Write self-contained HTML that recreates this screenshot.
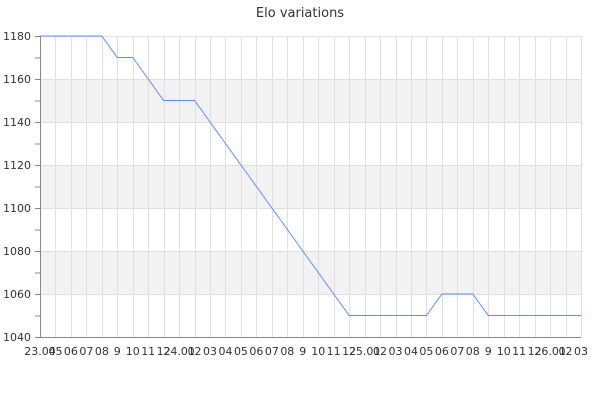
<!DOCTYPE html>
<html><head><style>body{margin:0;background:#fff}svg{display:block}text{font-family:"DejaVu Sans","Liberation Sans",sans-serif;fill:#333}</style></head>
<body>
<svg width="600" height="400" xmlns="http://www.w3.org/2000/svg">
<text x="300" y="17" font-size="13" text-anchor="middle">Elo variations</text>
<g fill="#f2f2f2">
<rect x="40" y="79" width="541" height="43"/>
<rect x="40" y="165" width="541" height="43"/>
<rect x="40" y="251" width="541" height="43"/>
</g>
<g id="g" stroke="#e0e0e0" stroke-width="1"></g>
<g id="lab" font-size="11" text-anchor="middle"></g>
<g font-size="11" text-anchor="end">
<text x="31" y="40">1180</text><text x="31" y="83">1160</text><text x="31" y="126">1140</text><text x="31" y="169">1120</text><text x="31" y="212">1100</text><text x="31" y="255">1080</text><text x="31" y="298">1060</text><text x="31" y="341">1040</text>
</g>
<g id="tk" stroke="#888"></g>
<line x1="40.5" y1="36" x2="40.5" y2="337" stroke="#888"/>
<line x1="40" y1="337.5" x2="581" y2="337.5" stroke="#888"/>
<polyline id="ln" fill="none" stroke="#5b8ff9" stroke-width="1"/>
</svg>
<script>
var ns="http://www.w3.org/2000/svg",g=document.getElementById('g'),lab=document.getElementById('lab'),tk=document.getElementById('tk');
function X(i){return 40+i*541/35}
function Y(v){return 36+(1180-v)*301/140}
for(var k=0;k<8;k++){var y=36+k*43+0.5;var l=document.createElementNS(ns,'line');l.setAttribute('x1',40);l.setAttribute('x2',581);l.setAttribute('y1',y);l.setAttribute('y2',y);g.appendChild(l);}
for(var k=0;k<15;k++){var y=36+k*21.5;var l=document.createElementNS(ns,'line');l.setAttribute('x1',35);l.setAttribute('x2',40);l.setAttribute('y1',y+0.5);l.setAttribute('y2',y+0.5);tk.appendChild(l);}
var labs=["23.04","05","06","07","08","9","10","11","12","24.01","02","03","04","05","06","07","08","9","10","11","12","25.01","02","03","04","05","06","07","08","9","10","11","12","26.01","02","03"];
for(var i=0;i<36;i++){var x=Math.round(X(i))+0.5;var l=document.createElementNS(ns,'line');l.setAttribute('x1',x);l.setAttribute('x2',x);l.setAttribute('y1',36);l.setAttribute('y2',337);g.appendChild(l);
var t=document.createElementNS(ns,'text');t.setAttribute('x',X(i));t.setAttribute('y',355);t.textContent=labs[i];lab.appendChild(t);}
var d=[1180,1180,1180,1180,1180,1170,1170,1160,1150,1150,1150,1140,1130,1120,1110,1100,1090,1080,1070,1060,1050,1050,1050,1050,1050,1050,1060,1060,1060,1050,1050,1050,1050,1050,1050,1050];
document.getElementById('ln').setAttribute('points',d.map(function(v,i){return X(i)+','+Y(v)}).join(' '));
</script>
</body></html>
